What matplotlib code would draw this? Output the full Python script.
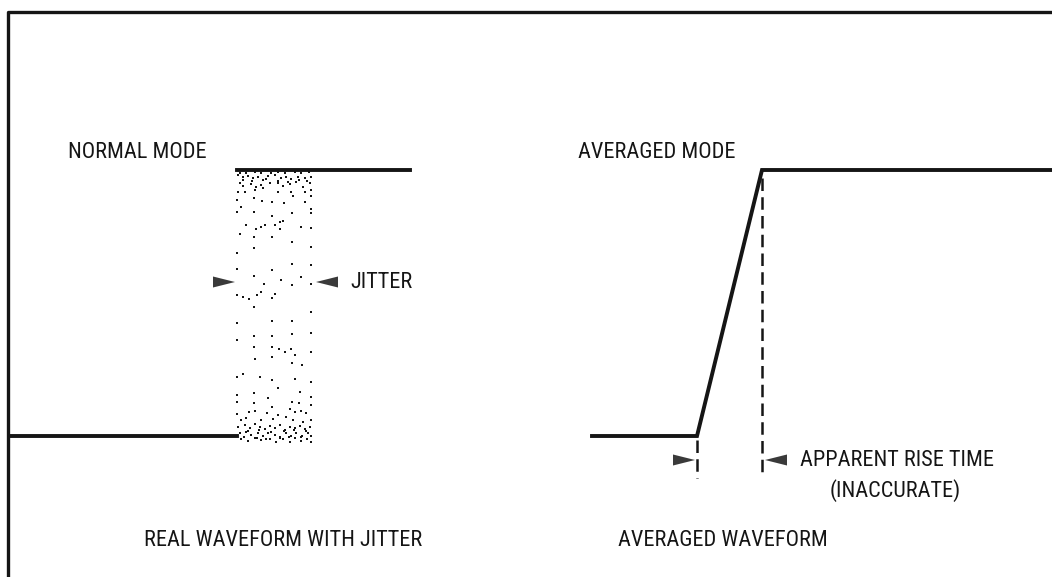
import matplotlib.pyplot as plt

plt.rcParams['font.family'] = ['Roboto Condensed', 'Roboto', 'DejaVu Sans']

# everything is in page pixels of the scanned figure (y grows downward)
frame_x = [1052, 8, 8]
frame_y = [12, 12, 577]

normal_low_x = [10, 237]
normal_low_y = [436, 436]
normal_high_x = [237, 410]
normal_high_y = [170, 170]

avg_x = [592, 697, 762, 1052]
avg_y = [436, 436, 170, 170]

dash_start_x = [697, 697]
dash_start_y = [440, 478]
dash_end_x = [762, 762]
dash_end_y = [178, 478]

# jitter stipple, dots
dots_x = [238, 243, 248, 253, 258, 263, 268, 275, 281, 286, 291, 298, 305, 311,
          240, 243, 251, 256, 261, 270, 278, 283, 290, 296, 303, 310,
          238, 245, 255, 263, 278, 291, 293, 305, 311,
          240, 246, 255, 261, 271, 278, 285, 295, 301, 309,
          237, 254, 262, 272, 284, 305, 311, 241, 237, 254, 272, 292, 311, 311,
          246, 256, 261, 265, 275, 280, 283, 280, 301, 311, 240, 254, 272, 292,
          311, 254, 237,
          237, 254, 272, 292, 311, 281, 301, 264, 292, 311, 237, 243, 249, 257,
          261, 272, 275, 254, 311, 237, 272, 292, 254, 272, 292, 311, 237, 254,
          272, 279, 291,
          255, 272, 285, 295, 311, 292, 302, 237, 243, 260, 272, 295, 311, 278,
          254, 300, 237, 268, 311, 237, 254, 272, 292, 299, 311, 249, 255, 267,
          278, 290, 295, 301, 306, 237, 241, 246, 261, 273, 286, 293, 303, 311,
          238, 245, 250, 255, 260, 265, 270, 275, 280, 285, 290, 295, 300, 305,
          310, 240, 246, 251, 258, 263, 268, 275, 280, 286, 291, 296, 301, 308,
          311, 241, 248, 255, 261, 270, 276, 283, 290, 295, 301, 307, 311,
          243, 252, 266, 278, 288, 299, 307, 248, 259, 271, 284, 294, 306,
          244, 257, 266, 280, 289, 302]
dots_y = [175, 177, 176, 178, 177, 180, 176, 175, 178, 177, 179, 177, 178, 177,
          183, 186, 184, 187, 185, 183, 183, 186, 184, 182, 187, 183,
          192, 192, 190, 188, 192, 192, 196, 192, 190,
          173, 173, 172, 173, 173, 172, 173, 172, 173, 172,
          200, 198, 201, 202, 203, 202, 196, 207, 212, 212, 216, 213, 209, 213,
          225, 229, 227, 225, 225, 222, 221, 229, 227, 228, 234, 237, 237, 242,
          247, 248, 253,
          269, 276, 270, 264, 265, 280, 277, 284, 285, 284, 295, 297, 299, 295,
          292, 298, 294, 307, 312, 323, 321, 321, 336, 336, 334, 333, 340, 347,
          347, 349, 349,
          359, 357, 352, 355, 352, 363, 365, 377, 374, 377, 380, 379, 382, 388,
          393, 392, 395, 398, 397, 402, 403, 407, 402, 403, 405, 412, 411, 413,
          415, 409, 412, 411, 413, 414, 420, 418, 420, 419, 417, 420, 422, 420,
          427, 425, 428, 424, 427, 429, 426, 428, 425, 430, 427, 428, 426, 429,
          427, 433, 432, 435, 433, 436, 433, 435, 437, 433, 436, 433, 437, 433,
          436, 439, 441, 438, 440, 439, 442, 439, 442, 438, 441, 439, 442,
          180, 181, 179, 181, 182, 180, 181, 431, 430, 432, 431, 430, 431,
          437, 438, 439, 438, 437, 436]

# arrowheads: (tip x, y, direction)
arrows = [(235, 282, 1), (316, 282, -1), (695, 460, 1), (765, 460, -1)]

labels = ['NORMAL MODE', 'AVERAGED MODE', 'JITTER', 'APPARENT RISE TIME',
          '(INACCURATE)', 'REAL WAVEFORM WITH JITTER', 'AVERAGED WAVEFORM']
label_x = [68, 578, 350, 800, 830, 144, 618]
label_y = [153, 153, 282, 460, 491, 541, 541]

ink = '#151515'

fig = plt.figure(figsize=(10.52, 5.77), dpi=100)
ax = fig.add_axes([0, 0, 1, 1])
ax.set_xlim(0, 1052)
ax.set_ylim(577, 0)
ax.axis('off')

ax.plot(frame_x, frame_y, color=ink, lw=2.4, solid_capstyle='butt')

ax.plot(normal_low_x, normal_low_y, color=ink, lw=2.8)
ax.plot(normal_high_x, normal_high_y, color=ink, lw=2.8)
ax.plot(avg_x, avg_y, color=ink, lw=2.8, solid_joinstyle='miter')

for xs, ys in [(dash_start_x, dash_start_y), (dash_end_x, dash_end_y)]:
    ax.plot(xs, ys, color=ink, lw=1.8, dashes=(5, 2.5))

ax.scatter(dots_x, dots_y, s=4.5, marker='s', color=ink, linewidths=0)

for tx, ty, d in arrows:
    ax.fill([tx, tx - d * 22, tx - d * 22], [ty, ty - 5.5, ty + 5.5],
            color='#3a3a3a', lw=0)

for s, x, y in zip(labels, label_x, label_y):
    ax.text(x, y, s, fontsize=16, color=ink, ha='left', va='center')

fig.savefig('out.png', dpi=100)
